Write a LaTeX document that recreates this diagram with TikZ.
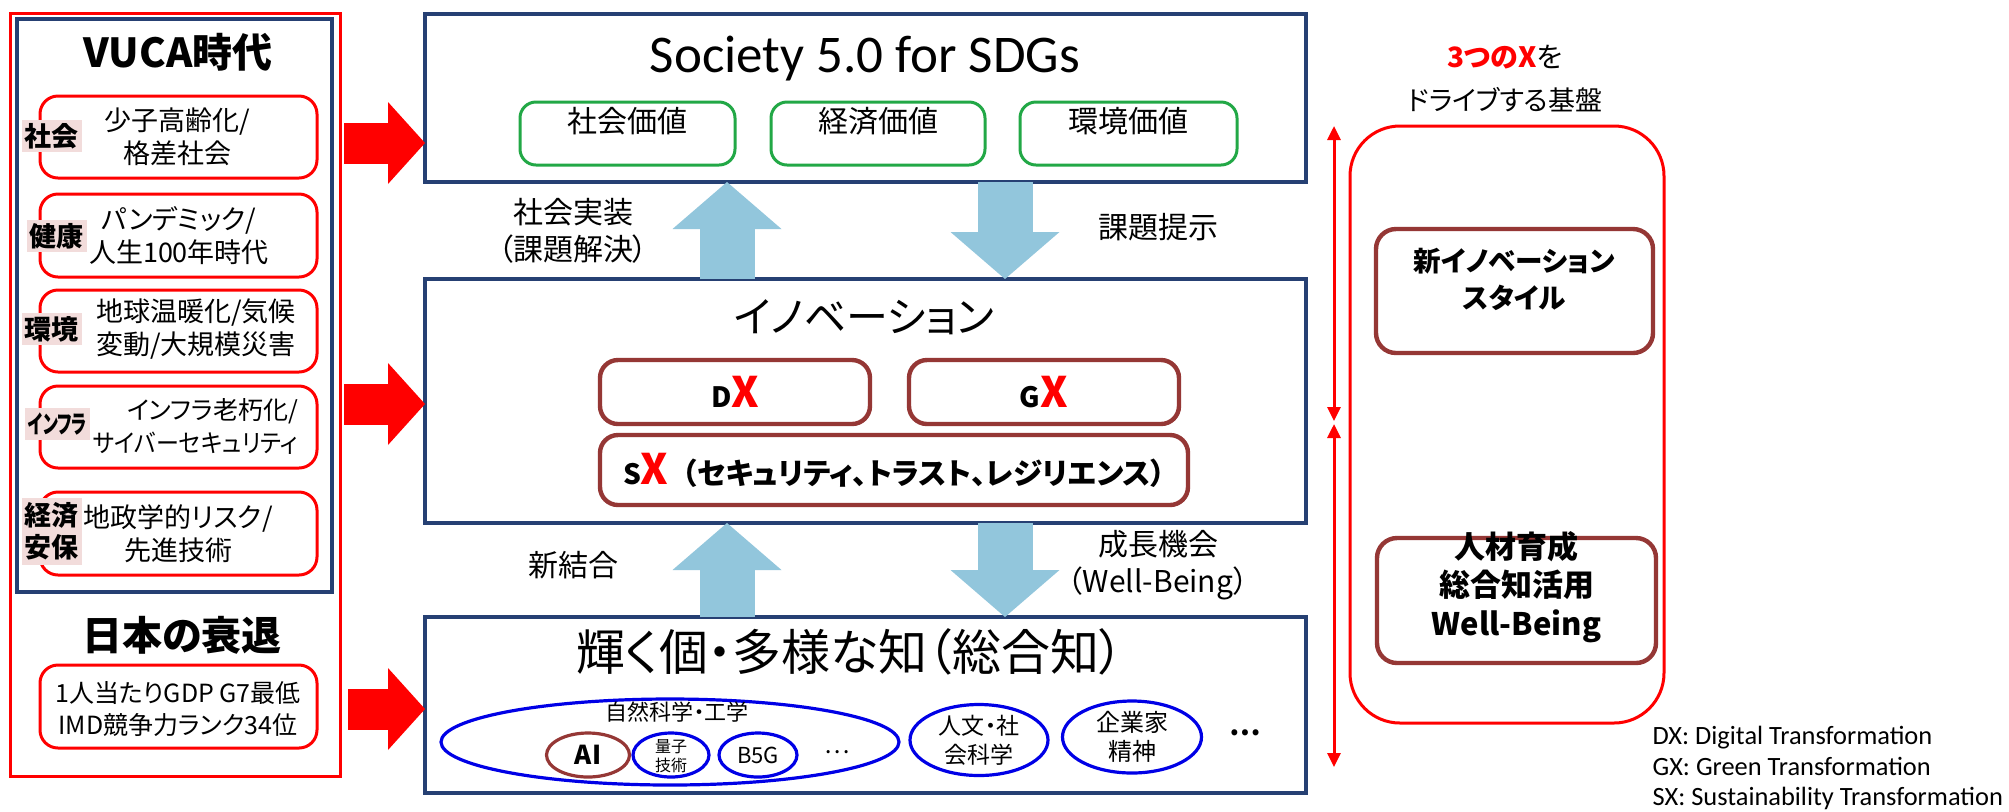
\documentclass[tikz,border=0pt]{standalone}
\usepackage{fontspec}
\setmainfont{Noto Sans CJK JP}[RawFeature=+palt]
\newfontfamily\calfont{Carlito}
\usetikzlibrary{arrows.meta,fit,shapes.geometric}
\definecolor{vred}{RGB}{255,0,0}
\definecolor{navy}{RGB}{38,64,115}
\definecolor{vgreen}{RGB}{34,168,70}
\definecolor{dred}{RGB}{149,55,53}
\definecolor{lblue}{RGB}{146,198,220}
\definecolor{eblue}{RGB}{0,0,230}
\definecolor{pinkc}{RGB}{242,220,219}
\newcommand\fsz[2]{\fontsize{#1}{#2}\selectfont}
\begin{document}
\begin{tikzpicture}[x=0.5pt,y=-0.5pt,
  every node/.style={inner sep=0pt, outer sep=0pt},
  frame/.style={draw=navy, line width=1.6pt},
  rbox/.style={draw=vred, line width=1.5pt, rounded corners=9pt},
  gbox/.style={draw=vgreen, line width=1.5pt, rounded corners=8pt},
  xbox/.style={draw=dred, line width=2.2pt, rounded corners=9pt},
  plab/.style={fill=pinkc, minimum width=30pt, minimum height=16pt, font=\bfseries\fsz{13.5}{16}},
  btxt/.style={align=center, font=\fsz{13.5}{16.5}},
  mtxt/.style={align=center, font=\fsz{15}{18.5}},
  bluearrow/.style={draw=lblue, line width=27.5pt, -{Triangle[length=23.5pt,width=54.5pt,line width=0pt]}},
  redarrow/.style={draw=vred, line width=20.5pt, -{Triangle[length=18.5pt,width=41pt,line width=0pt]}},
  dblarrow/.style={draw=vred, line width=1.5pt, {Triangle[length=7pt,width=6.5pt]}-{Triangle[length=7pt,width=6.5pt]}},
  ell/.style={ellipse, draw=eblue, line width=1.6pt},
]
\fill[white] (0,0) rectangle (2009,811);
\useasboundingbox (0,0) rectangle (2009,811);

% ---------------- left panel ----------------
\node[fit={(10,13)(340,776)}, draw=vred, line width=1.5pt] (outer) {};
\node[fit={(17,19)(332,592)}, frame] (vuca) {};
\node[font=\bfseries\fsz{20}{24}] (vucat) at (178,52) {VUCA時代};

\node[rbox, fit={(40,96)(317,178)}] (b1) {};
\node[btxt] (b1t) at (177,137) {少子高齢化/\\格差社会};
\node[plab] (l1) at (52,136) {社会};

\node[rbox, fit={(40,194)(317,277)}] (b2) {};
\node[btxt] (b2t) at (179,235.5) {パンデミック/\\人生100年時代};
\node[plab] (l2) at (57,236) {健康};

\node[rbox, fit={(40,290)(317,372)}] (b3) {};
\node[btxt] (b3t) at (196,329) {地球温暖化/気候\\変動/大規模災害};
\node[plab] (l3) at (52,329) {環境};

\node[rbox, fit={(40,386)(317,468)}] (b4) {};
\node[btxt, align=right, anchor=east, font=\fsz{12.5}{16.5}] (b4t) at (298,426) {インフラ老朽化/\\\scalebox{0.92}[1]{サイバーセキュリティ}};
\node[plab, minimum width=32.5pt, font=\bfseries\fsz{12.5}{16}] (l4) at (57.5,424) {\scalebox{0.66}[1]{インフラ}};

\node[rbox, fit={(40,492)(317,575)}] (b5) {};
\node[btxt] (b5t) at (178,534) {地政学的リスク/\\先進技術};
\node[plab, minimum height=33.5pt, align=center] (l5) at (52,531.5) {経済\\安保};

\node[font=\bfseries\fsz{20}{24}] (jpt) at (182,635) {日本の衰退};
\node[rbox, fit={(40,665)(317,748)}] (b6) {};
\node[align=center, font=\fsz{12.5}{16}] (b6t) at (178,709) {1人当たりGDP G7最低\\IMD競争力ランク34位};

% ---------------- central column ----------------
\node[fit={(425,14)(1306,182)}, frame] (soc) {};
\node[font=\calfont\fsz{26.5}{31}, anchor=base] (soct) at (865,72) {Society 5.0 for SDGs};
\node[gbox, fit={(520,102)(735,165)}, font=\fsz{15}{18}] (g1) {社会価値};
\node[gbox, fit={(771,102)(985,165)}, font=\fsz{15}{18}] (g2) {経済価値};
\node[gbox, fit={(1020,102)(1237,165)}, font=\fsz{15}{18}] (g3) {環境価値};

\node[fit={(425,279)(1306,523)}, frame] (inno) {};
\node[font=\fsz{21}{25}] (innot) at (864,317) {イノベーション};
\node[xbox, fit={(600,360)(870,424)}] (dx) {};
\node (dxt) at (dx.center) {\bfseries\fsz{14}{16}D\textcolor{vred}{\fsz{21}{25}X}};
\node[xbox, fit={(909,360)(1179,424)}] (gx) {};
\node (gxt) at (gx.center) {\bfseries\fsz{14}{16}G\textcolor{vred}{\fsz{21}{25}X}};
\node[xbox, fit={(600,435)(1188,505)}] (sx) {};
\node[anchor=west] (sxt) at (623,470) {\bfseries\fsz{14}{16}S\textcolor{vred}{\fsz{21}{25}X}\hspace{7pt}\fsz{14.8}{18}（セキュリティ、トラスト、レジリエンス）};

\node[fit={(425,617)(1306,793)}, frame] (know) {};
\node[font=\fsz{24.5}{28}] (knowt) at (850,652) {輝く個・多様な知（総合知）};
\node[ell, minimum width=229pt, minimum height=43pt] (nat) at (670,742) {};
\node[font=\fsz{11}{13}] (natt) at (677,712) {自然科学・工学};
\node[ellipse, draw=dred, line width=1.6pt, minimum width=41.5pt, minimum height=22pt, font=\bfseries\fsz{13}{15}] (ai) at (588,755) {AI};
\node[ell, minimum width=38pt, minimum height=22pt] (qt) at (671,755) {};
\node[align=center, font=\fsz{8}{9.5}] (qtt) at (671,756) {量子\\技術};
\node[ell, minimum width=39pt, minimum height=22pt, font=\fsz{11}{13}] (b5g) at (758,755) {B5G};
\node[font=\fsz{12}{14}] (dots1) at (837,752) {…};
\node[ell, minimum width=69pt, minimum height=35.5pt] (hum) at (979,740) {};
\node[align=center, font=\fsz{11.5}{14.5}] (humt) at (979,740) {人文・社\\会科学};
\node[ell, minimum width=69.5pt, minimum height=36pt] (ent) at (1132,737) {};
\node[align=center, font=\fsz{12}{14.5}] (entt) at (1132,737) {企業家\\精神};
\node[font=\bfseries\fsz{14}{16}] (dots2) at (1245,733) {…};

% block arrows between the layers
\coordinate (upx) at (727,0);
\coordinate (dnx) at (1005,0);
\draw[bluearrow] (inno.north -| upx) -- (soc.south -| upx);
\draw[bluearrow] (soc.south -| dnx) -- (inno.north -| dnx);
\draw[bluearrow] (know.north -| upx) -- (inno.south -| upx);
\draw[bluearrow] (inno.south -| dnx) -- (know.north -| dnx);

\node[mtxt] (lab1) at (573,231) {社会実装\\（課題解決）};
\node[mtxt] (lab2) at (1158,227) {課題提示};
\node[mtxt] (lab3) at (573,565) {新結合};
\node[mtxt] (lab4) at (1158,565) {成長機会\\（Well-Being）};

% red arrows from the left panel
\coordinate (ra1) at (344,143);
\coordinate (ra2) at (344,404);
\coordinate (ra3) at (348,709);
\draw[redarrow] (ra1) -- (soc.west |- ra1);
\draw[redarrow] (ra2) -- (inno.west |- ra2);
\draw[redarrow] (ra3) -- (know.west |- ra3);

% ---------------- right panel ----------------
\node[font=\fsz{14}{17}] (hd1) at (1505,57) {\textcolor{vred}{\bfseries 3つのX}を};
\node[font=\fsz{13.5}{16}] (hd2) at (1505,100) {ドライブする基盤};
\node[fit={(1350,126)(1664,723)}, draw=vred, line width=1.5pt, rounded corners=25pt] (base) {};
\node[xbox, rounded corners=10pt, fit={(1376,229)(1653,353)}, align=center, font=\bfseries\fsz{13.8}{18.5}] (nis) {新イノベーション\\スタイル};
\node[xbox, rounded corners=10pt, fit={(1377,538)(1656,663)}, align=center, font=\bfseries\fsz{15.5}{19.25}] (hr) {人材育成\\総合知活用\\Well-Being};

\coordinate (da1) at (1334,126);
\coordinate (da2) at (1334,421);
\coordinate (da3) at (1334,424);
\coordinate (da4) at (1334,767);
\draw[dblarrow] (da1) -- (da2);
\draw[dblarrow] (da3) -- (da4);

\node[anchor=east, align=left, font=\calfont\fsz{13.2}{15.3}] (legend) at (2003,768) {DX: Digital Transformation\\GX: Green Transformation\\SX: Sustainability Transformation};
\end{tikzpicture}
\end{document}
